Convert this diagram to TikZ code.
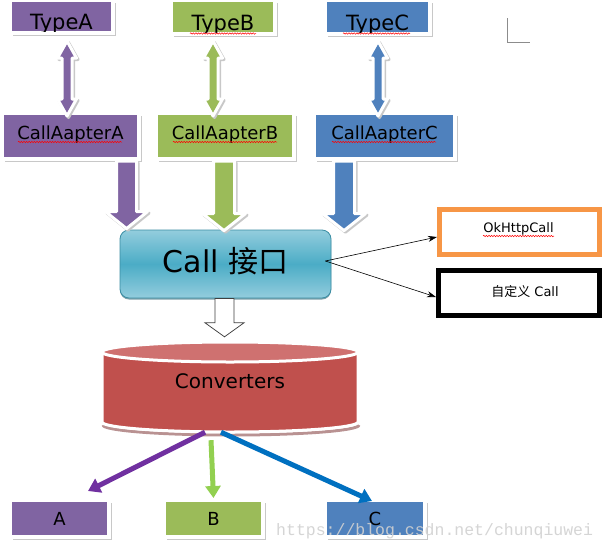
\documentclass[tikz,border=0pt]{standalone}
\usepackage{fontspec}
\setmainfont{DejaVu Sans}
\newfontfamily\cjk{Noto Sans CJK SC}
\newfontfamily\wmfont{Liberation Mono}
\usetikzlibrary{calc,arrows.meta,decorations.pathmorphing,shadows}

\definecolor{purp}{HTML}{8064A2}
\definecolor{grn}{HTML}{9BBB59}
\definecolor{blu}{HTML}{4F81BD}
\definecolor{cylred}{HTML}{C0504D}
\definecolor{cyltop}{HTML}{CF7170}
\definecolor{cylshad}{HTML}{B99292}
\definecolor{aqmid}{HTML}{4BACC6}
\definecolor{aqlight}{HTML}{93CDDD}
\definecolor{aqedge}{HTML}{3A8DA3}
\definecolor{orng}{HTML}{F79646}
\definecolor{arpurp}{HTML}{7030A0}
\definecolor{argrn}{HTML}{92D050}
\definecolor{arblu}{HTML}{0070C0}
\definecolor{shad}{HTML}{C8C8C8}

\newcommand\fsz[1]{\fontsize{#1pt}{#1pt}\selectfont}
\newcommand\getys[2]{\path let \p1=(#1), \p2=(#2) in \pgfextra{\xdef\yA{\y1}\xdef\yB{\y2}};}
% double vertical block arrow: #1 x, #2 top tip y, #3 bottom tip y, #4 half shaft, #5 half head, #6 head length, #7 style
\newcommand\dblpath[7]{\path[#7] (#1,#2) -- (#1+#5pt,#2-#6pt) -- (#1+#4pt,#2-#6pt) -- (#1+#4pt,#3+#6pt) -- (#1+#5pt,#3+#6pt) -- (#1,#3) -- (#1-#5pt,#3+#6pt) -- (#1-#4pt,#3+#6pt) -- (#1-#4pt,#2-#6pt) -- (#1-#5pt,#2-#6pt) -- cycle;}
% single downward block arrow: #1 x, #2 start y, #3 tip y, #4 half shaft, #5 half head, #6 head length, #7 style
\newcommand\sglpath[7]{\path[#7] (#1-#4pt,#2) -- (#1+#4pt,#2) -- (#1+#4pt,#3+#6pt) -- (#1+#5pt,#3+#6pt) -- (#1,#3) -- (#1-#5pt,#3+#6pt) -- (#1-#4pt,#3+#6pt) -- cycle;}

\begin{document}
\begin{tikzpicture}[x=1pt,y=-1pt,
  obox/.style={draw=white, line width=4pt, inner sep=0pt,
    drop shadow={shadow xshift=3pt, shadow yshift=-3pt, fill=shad, opacity=1}},
  lab/.style={inner sep=0pt, text=black},
  squig/.style={draw=red, line width=0.5pt, decorate,
    decoration={snake, amplitude=0.7pt, segment length=2.6pt}},
  blkshad/.style={fill=shad, draw=shad, line width=3pt, line join=round},
  blk/.style={fill=#1, draw=white, line width=3pt, line join=round},
  thinarrow/.style={draw=black, line width=0.6pt, -{Stealth[length=9pt,width=6pt]}},
  fatarrow/.style={line width=5pt, -{Triangle[length=12pt,width=15pt]}},
]
\fill[white] (0,0) rectangle (608,552);
\useasboundingbox (0,0) rectangle (608,552);

% ---- Type boxes (text clipped by the box) ----
\node[obox, fill=purp, minimum width=103pt, minimum height=33pt] (tA) at (61.5,16.5) {};
\node[obox, fill=grn,  minimum width=104pt, minimum height=34pt] (tB) at (223,17) {};
\node[obox, fill=blu,  minimum width=105pt, minimum height=34pt] (tC) at (377.5,17) {};
\begin{scope}
  \clip (12,2) rectangle (111,31);
  \node[lab, font=\fsz{21}, anchor=base] (tAt) at (61.5,29.5) {TypeA};
\end{scope}
\begin{scope}
  \clip (173,2) rectangle (273,32);
  \node[lab, font=\fsz{21}, anchor=base] (tBt) at (223,30) {TypeB};
\end{scope}
\begin{scope}
  \clip (327,2) rectangle (428,32);
  \node[lab, font=\fsz{21}, anchor=base] (tCt) at (377.5,30) {TypeC};
\end{scope}
\draw[squig] (190,33.5) -- (256,33.5);
\draw[squig] (343,33.5) -- (410,33.5);

% ---- CallAdapter boxes ----
\node[obox, fill=purp, minimum width=137pt, minimum height=46pt, font=\fsz{18}, text depth=6pt] (caA) at (70.5,136) {CallAapterA};
\node[obox, fill=grn,  minimum width=138pt, minimum height=46pt, font=\fsz{18}, text depth=6pt] (caB) at (225,136) {CallAapterB};
\node[obox, fill=blu,  minimum width=141pt, minimum height=46pt, font=\fsz{18}, text depth=6pt] (caC) at (384.5,136) {CallAapterC};
\draw[squig] (18,142) -- (122,142);
\draw[squig] (173,142) -- (277,142);
\draw[squig] (332,142) -- (436,142);

% ---- double arrows Type <-> CallAdapter ----
\getys{$(tA.south)+(0,6)$}{$(caA.north)+(0,5)$}
\dblpath{68.5pt}{\yA-1.5pt}{\yB-1.5pt}{5}{9.5}{17}{blkshad}
\dblpath{67pt}{\yA}{\yB}{5}{9.5}{17}{blk=purp}
\getys{$(tB.south)+(0,5)$}{$(caB.north)+(0,5)$}
\dblpath{214.5pt}{\yA-1.5pt}{\yB-1.5pt}{5}{9.5}{17}{blkshad}
\dblpath{213pt}{\yA}{\yB}{5}{9.5}{17}{blk=grn}
\getys{$(tC.south)+(0,5)$}{$(caC.north)+(0,5)$}
\dblpath{379.5pt}{\yA-1.5pt}{\yB-1.5pt}{5}{9.5}{17}{blkshad}
\dblpath{378pt}{\yA}{\yB}{5}{9.5}{17}{blk=blu}

% ---- Call interface box ----
\node[draw=aqedge, line width=0.8pt, rounded corners=9pt, minimum width=211pt, minimum height=68pt,
      top color=aqlight, bottom color=aqlight, middle color=aqmid, inner sep=0pt,
      drop shadow={shadow xshift=0pt, shadow yshift=-1.5pt, fill=aqedge!70!black, opacity=0.6},
      font=\fsz{30}, text depth=8pt] (call) at (225.5,264) {Call {\cjk 接口}};

% ---- big arrows CallAdapter -> Call ----
\getys{caA.south}{$(call.north)+(0,-1)$}
\sglpath{128pt}{\yA-1.5pt}{\yB-1.5pt}{10}{21}{17}{blkshad}
\sglpath{126.5pt}{\yA}{\yB}{10}{21}{17}{blk=purp}
\getys{caB.south}{$(call.north)+(0,1)$}
\sglpath{225.5pt}{\yA-1.5pt}{\yB-1.5pt}{10.5}{21.5}{17}{blkshad}
\sglpath{224pt}{\yA}{\yB}{10.5}{21.5}{17}{blk=grn}
\getys{caC.south}{$(call.north)+(0,1)$}
\sglpath{345.5pt}{\yA-1.5pt}{\yB-1.5pt}{10.5}{21.5}{17}{blkshad}
\sglpath{344pt}{\yA}{\yB}{10.5}{21.5}{17}{blk=blu}

% ---- implementations ----
\node[draw=orng, line width=4pt, minimum width=161pt, minimum height=46pt, inner sep=0pt] (okc) at (519.5,232) {};
\draw[orng, line width=1pt] ([shift={(4.2pt,-4.2pt)}]okc.north west) rectangle ([shift={(-4.2pt,4.2pt)}]okc.south east);
\node[lab, font=\fsz{13}] (okt) at (518.5,228.5) {OkHttpCall};
\draw[squig] (483,236) -- (554,236);

\node[draw=black, line width=4pt, minimum width=162pt, minimum height=46pt, inner sep=0pt] (dfc) at (519,293) {};
\draw[black, line width=1pt] ([shift={(4.2pt,-4.2pt)}]dfc.north west) rectangle ([shift={(-4.2pt,4.2pt)}]dfc.south east);
\node[lab, font=\fsz{13}] (dft) at (525,292) {{\cjk 自定义} Call};

\coordinate (cs) at ([shift={(-6pt,3pt)}]call.east);
\draw[thinarrow] (cs) -- ([yshift=-5pt]okc.west);
\draw[thinarrow] (cs) -- ([yshift=-4pt]dfc.west);

% ---- Converters cylinder ----
\node[inner sep=0pt, minimum width=256pt, minimum height=90pt] (conv) at (230,387) {};
\draw[cylshad, line width=3pt] (103,425) arc[start angle=180, end angle=0, x radius=128, y radius=10];
\path[fill=cylred, draw=white, line width=3pt]
  (102,352) -- (102,422) arc[start angle=180, end angle=0, x radius=128, y radius=10]
  -- (358,352) arc[start angle=0, end angle=-180, x radius=128, y radius=10] -- cycle;
\path[fill=cyltop, draw=white, line width=3pt] (230,352) ellipse[x radius=128, y radius=10];
\node[lab, font=\fsz{20}] (convt) at (230,381) {Converters};

% ---- open arrow Call -> Converters ----
\getys{call.south}{$(conv.north)+(0,-5)$}
\sglpath{224.5pt}{\yA}{\yB}{9.5}{19.5}{14}{fill=white, draw=black!75, line width=0.75pt}

% ---- result boxes ----
\node[obox, fill=purp, minimum width=99pt,  minimum height=37pt, font=\fsz{18}] (nA) at (59.5,518.5) {A};
\node[obox, fill=grn,  minimum width=99pt,  minimum height=37pt, font=\fsz{18}] (nB) at (213.5,518.5) {B};
\node[obox, fill=blu,  minimum width=100pt, minimum height=37pt, font=\fsz{18}] (nC) at (375,518.5) {C};

\draw[fatarrow, arpurp] ([xshift=-25pt]conv.south) -- ([shift={(28.5pt,7pt)}]nA.north);
\draw[fatarrow, argrn]  ([shift={(-19pt,-8pt)}]conv.south) -- (nB.north);
\draw[fatarrow, arblu]  ([xshift=-9pt]conv.south) -- ([shift={(-3pt,-3pt)}]nC.north);

% ---- corner mark and watermark ----
\draw[black!45, line width=0.6pt] (507,18) coordinate (cm1) -- (507,42) -- (530,42) coordinate (cm2);
\node[lab, anchor=west, font=\wmfont\fsz{16.5}, text=black!18, opacity=0.9] (wm) at (276,531) {https://blog.csdn.net/chunqiuwei};
\end{tikzpicture}
\end{document}
